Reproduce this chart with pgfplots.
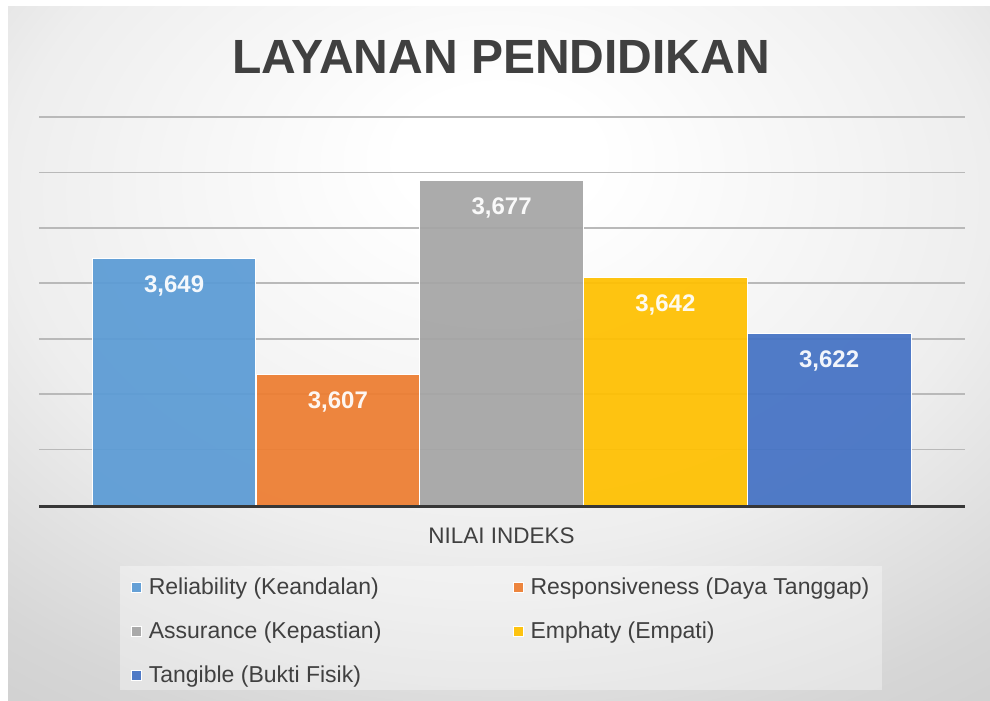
\documentclass[border=0pt]{standalone}
\usepackage{pgfplots}
\pgfplotsset{compat=1.18}
\usepackage{fontspec}
\setmainfont{Liberation Sans}
\definecolor{cA}{RGB}{91,155,213}
\definecolor{cB}{RGB}{237,125,49}
\definecolor{cC}{RGB}{165,165,165}
\definecolor{cD}{RGB}{255,192,0}
\definecolor{cE}{RGB}{68,114,196}
\definecolor{txt}{RGB}{64,64,64}
\definecolor{gridc}{RGB}{185,185,185}
\definecolor{basec}{RGB}{55,55,55}
\definecolor{bg1}{RGB}{238,238,238}
\definecolor{bg2}{RGB}{214,214,214}
\definecolor{bg3}{RGB}{198,198,198}
\definecolor{bgout}{RGB}{186,186,186}
\pgfdeclareradialshading{bgshade}{\pgfpoint{0bp}{15bp}}{color(0bp)=(white); color(5bp)=(white); color(25bp)=(bg1); color(38bp)=(bg2); color(52bp)=(bg3); color(100bp)=(bgout)}
\begin{document}
\begin{tikzpicture}[x=1bp,y=1bp]
\useasboundingbox (0,0) rectangle (990,701);
\fill[white] (0,0) rectangle (990,701);
\shade[shading=bgshade] (8,0) rectangle (990,694);
\fill[white, opacity=0.35] (120,11) rectangle (882,135);
\node[anchor=base, font=\fontsize{48bp}{48bp}\selectfont\bfseries, text=txt, inner sep=0pt] at (501,627.7) {LAYANAN PENDIDIKAN};
\node[anchor=base, font=\fontsize{22.5bp}{22.5bp}\selectfont, text=txt, inner sep=0pt] at (501.5,157.7) {NILAI INDEKS};
\begin{axis}[
  name=ax,
  at={(39bp,196bp)}, anchor=south west,
  scale only axis, width=926bp, height=388bp,
  xmin=0.175, xmax=5.83, ymin=3.56, ymax=3.70,
  axis line style={draw=none},
  xtick=\empty,
  ytick={3.58,3.60,3.62,3.64,3.66,3.68,3.70},
  yticklabels={},
  major tick length=0pt,
  ymajorgrids,
  grid style={gridc, line width=1.7bp},
  ybar, bar width=163.6bp, bar shift=0pt,
  point meta=explicit symbolic,
  nodes near coords,
  every node near coord/.append style={font=\fontsize{24bp}{24bp}\selectfont\bfseries, text=white, inner sep=0pt, anchor=north, yshift=-17bp},
  legend columns=2,
  legend cell align=left,
  legend image code/.code={\fill[#1] (0bp,-3bp) rectangle (10bp,7bp);},
  legend style={at={(0.09935,-0.18814)}, anchor=north west, draw=none, fill=none,
    inner sep=0pt, outer sep=0pt, font=\fontsize{23bp}{23bp}\selectfont, text=txt,
    row sep=22bp,
    nodes={inner sep=0pt, text height=17bp, text depth=5bp},
    /tikz/every odd column/.append style={column sep=7bp},
    /tikz/every even column/.append style={column sep=7bp}},
]
\addplot[fill=cA, draw=white, line width=0.8bp, fill opacity=0.93, bar shift=0pt] coordinates {(1,3.649) [3,649]};
\addlegendentry{\makebox[357bp][l]{Reliability (Keandalan)}}
\addplot[fill=cB, draw=white, line width=0.8bp, fill opacity=0.93, bar shift=0pt] coordinates {(2,3.607) [3,607]};
\addlegendentry{Responsiveness (Daya Tanggap)}
\addplot[fill=cC, draw=white, line width=0.8bp, fill opacity=0.93, bar shift=0pt] coordinates {(3,3.677) [3,677]};
\addlegendentry{\makebox[357bp][l]{Assurance (Kepastian)}}
\addplot[fill=cD, draw=white, line width=0.8bp, fill opacity=0.93, bar shift=0pt] coordinates {(4,3.642) [3,642]};
\addlegendentry{Emphaty (Empati)}
\addplot[fill=cE, draw=white, line width=0.8bp, fill opacity=0.93, bar shift=0pt] coordinates {(5,3.622) [3,622]};
\addlegendentry{Tangible (Bukti Fisik)}
\end{axis}
\draw[basec, line width=3bp] ([yshift=-1.5bp]ax.south west) -- ([yshift=-1.5bp]ax.south east);
\end{tikzpicture}
\end{document}
